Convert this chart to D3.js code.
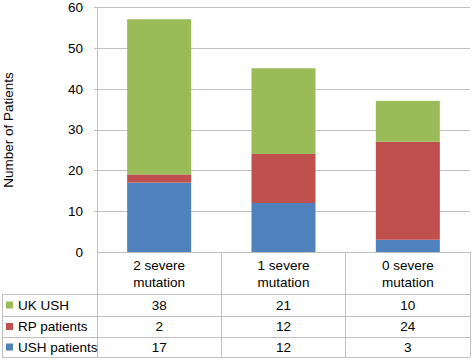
<!DOCTYPE html>
<html><head><meta charset="utf-8">
<script src="https://cdn.jsdelivr.net/npm/d3@7"></script>
<style>body{margin:0;background:#fff}svg{display:block}text{font-family:"Liberation Sans",Arial,sans-serif;fill:#000}</style>
</head><body>
<script>
const categories = [["2 severe","mutation"],["1 severe","mutation"],["0 severe","mutation"]];
const seriesNames = ["USH patients","RP patients","UK USH"];
const ushPatients = [17,12,3];
const rpPatients = [2,12,24];
const ukUsh = [38,21,10];
const yTicks = [0,10,20,30,40,50,60];
const colors = ["#4F81BD","#C0504D","#9BBB59"];

const W=472,H=360,FS=13.5;
const svg=d3.select("body").append("svg").attr("width",W).attr("height",H);
const x0=97,x1=470,yTop=7,yBot=252;
const x=d3.scaleBand().domain(d3.range(3)).range([x0,x1]).paddingInner(0).paddingOuter(0);
const y=d3.scaleLinear().domain([0,60]).range([yBot,yTop]);
const gridC="#BFBFBF";

// gridlines
svg.append("g").attr("shape-rendering","crispEdges").selectAll("line").data(yTicks.slice(1)).join("line")
  .attr("x1",x0-3).attr("x2",x1).attr("y1",d=>y(d)+0.5).attr("y2",d=>y(d)+0.5)
  .attr("stroke",gridC).attr("stroke-width",1);
// y labels
svg.append("g").selectAll("text").data(yTicks).join("text")
  .attr("x",83).attr("y",d=>y(d)).attr("dy","0.36em").attr("text-anchor","end")
  .attr("font-size",FS).text(d=>d);
// title
svg.append("text").attr("transform","translate(13,130) rotate(-90)").attr("text-anchor","middle")
  .attr("font-size",FS).text("Number of Patients");

// stacked bars
const table=d3.range(3).map(i=>({i,"USH patients":ushPatients[i],"RP patients":rpPatients[i],"UK USH":ukUsh[i]}));
const stack=d3.stack().keys(seriesNames)(table);
const bw=64;
svg.append("g").selectAll("g").data(stack).join("g").attr("fill",(d,k)=>colors[k])
  .selectAll("rect").data(d=>d).join("rect")
  .attr("x",d=>x(d.data.i)+x.bandwidth()/2-bw/2).attr("width",bw)
  .attr("y",d=>y(d[1])).attr("height",d=>y(d[0])-y(d[1]));

// axis line & table
const rowY=[yBot,294,316,337,357];
const g=svg.append("g").attr("stroke",gridC).attr("stroke-width",1).attr("shape-rendering","crispEdges");
g.append("line").attr("x1",x0+0.5).attr("x2",x0+0.5).attr("y1",yTop).attr("y2",357);
g.append("line").attr("x1",x0).attr("x2",x1).attr("y1",yBot+0.5).attr("y2",yBot+0.5);
[294,316,337,357].forEach(v=>g.append("line").attr("x1",2).attr("x2",x1).attr("y1",v+0.5).attr("y2",v+0.5));
g.append("line").attr("x1",2.5).attr("x2",2.5).attr("y1",294).attr("y2",357);
d3.range(1,4).forEach(i=>{const xv=x0+x.bandwidth()*i;
  g.append("line").attr("x1",xv).attr("x2",xv).attr("y1",yBot).attr("y2",357);});

// category labels
categories.forEach((c,i)=>{
  const cx=x(i)+x.bandwidth()/2;
  svg.append("text").attr("x",cx).attr("y",265).attr("dy","0.36em").attr("text-anchor","middle").attr("font-size",FS).text(c[0]);
  svg.append("text").attr("x",cx).attr("y",282).attr("dy","0.36em").attr("text-anchor","middle").attr("font-size",FS).text(c[1]);
});
// data rows (top = UK USH)
const rows=[["UK USH",ukUsh,colors[2]],["RP patients",rpPatients,colors[1]],["USH patients",ushPatients,colors[0]]];
rows.forEach((r,k)=>{
  const cy=(rowY[k+1]+rowY[k+2])/2;
  svg.append("rect").attr("x",6).attr("y",cy-3.5).attr("width",7).attr("height",7).attr("fill",r[2]);
  svg.append("text").attr("x",18).attr("y",cy).attr("dy","0.36em").attr("font-size",FS).text(r[0]);
  r[1].forEach((v,i)=>svg.append("text").attr("x",x(i)+x.bandwidth()/2).attr("y",cy).attr("dy","0.36em")
    .attr("text-anchor","middle").attr("font-size",FS).text(v));
});
</script>
</body></html>
